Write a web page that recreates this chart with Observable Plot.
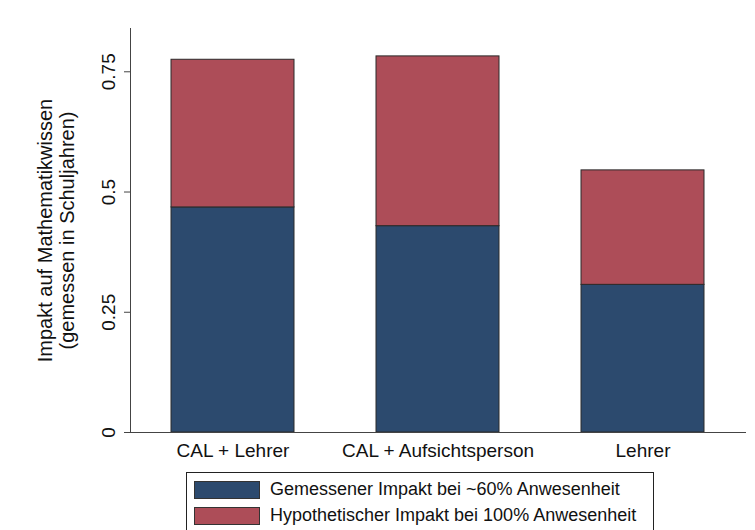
<!DOCTYPE html>
<html><head><meta charset="utf-8">
<script src="https://cdn.jsdelivr.net/npm/d3@7"></script>
<script src="https://cdn.jsdelivr.net/npm/@observablehq/plot@0.6"></script>
<style>
body{margin:0;background:#fff;font-family:"Liberation Sans",Arial,sans-serif;}
#wrap{position:relative;width:755px;height:530px;}
#legend{position:absolute;left:186px;top:472px;width:468px;height:70px;border:1px solid #222;box-sizing:border-box;background:#fff;}
.item{position:absolute;left:7px;display:flex;align-items:center;font-size:18px;color:#111;}
.sw{width:66px;height:18px;border:1px solid #333;box-sizing:border-box;margin-right:10px;}
</style></head>
<body><div id="wrap"><div id="chart"></div><div id="legend"></div></div>
<script>
const categories = ["CAL + Lehrer", "CAL + Aufsichtsperson", "Lehrer"];
const measured = [0.468, 0.429, 0.307];
const hypotheticalTotal = [0.775, 0.782, 0.545];
const seriesNames = ["Gemessener Impakt bei ~60% Anwesenheit", "Hypothetischer Impakt bei 100% Anwesenheit"];
const seriesColors = ["#2c4a6e", "#ad4d58"];
const yTicks = [0, 0.25, 0.5, 0.75];
const yTickLabels = ["0", "0.25", "0.5", "0.75"];
const yTitle = "Impakt auf Mathematikwissen\n(gemessen in Schuljahren)";

const data = [];
categories.forEach((c, i) => {
  data.push({cat: c, series: seriesNames[0], v: measured[i]});
  data.push({cat: c, series: seriesNames[1], v: hypotheticalTotal[i] - measured[i]});
});
const tickData = yTicks.map((t, i) => ({t, label: yTickLabels[i]}));

const chart = Plot.plot({
  width: 755, height: 470,
  marginLeft: 130, marginRight: 10, marginTop: 28, marginBottom: 38,
  style: {fontFamily: '"Liberation Sans", Arial, sans-serif', background: "#fff"},
  x: {domain: categories, paddingInner: 0.4, paddingOuter: 0.2, label: null},
  y: {domain: [0, 0.84], label: null},
  color: {domain: seriesNames, range: seriesColors},
  marks: [
    Plot.barY(data, Plot.stackY({order: null}, {x: "cat", y: "v", fill: "series", stroke: "#2a2a2a", strokeWidth: 1})),
    Plot.frame({anchor: "left", stroke: "#444"}),
    Plot.frame({anchor: "bottom", stroke: "#444"}),
    Plot.axisY({ticks: yTicks, tickSize: 6, tickFormat: () => "", label: null, stroke: "#444"}),
    Plot.text(tickData, {y: "t", text: "label", frameAnchor: "left", dx: -22, rotate: -90, textAnchor: "middle", lineAnchor: "middle", fontSize: 19, fill: "#111"}),
    Plot.text([yTitle], {text: d => d, frameAnchor: "left", dx: -75, rotate: -90, textAnchor: "middle", lineAnchor: "middle", fontSize: 20, lineHeight: 1.1, fill: "#111"}),
    Plot.axisX({tickSize: 0, tickPadding: 11, fontSize: 19, label: null, fill: "#111"})
  ]
});
document.getElementById("chart").appendChild(chart);

const lg = document.getElementById("legend");
seriesNames.forEach((s, i) => {
  const it = document.createElement("div");
  it.className = "item";
  it.style.top = (6 + i * 26) + "px";
  it.innerHTML = `<div class="sw" style="background:${seriesColors[i]}"></div><span>${s}</span>`;
  lg.appendChild(it);
});
</script></body></html>
